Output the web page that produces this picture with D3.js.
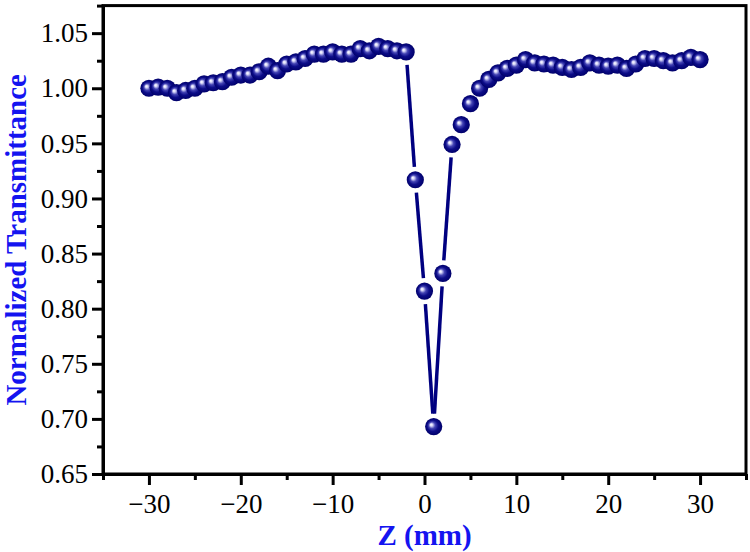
<!DOCTYPE html>
<html>
<head>
<meta charset="utf-8">
<script src="https://cdn.jsdelivr.net/npm/d3@7"></script>
<style>
body { margin: 0; background: #fff; }
</style>
</head>
<body>
<script>
// Z position (mm) and normalized transmittance
var zPos = [-30, -29, -28, -27, -26, -25, -24, -23, -22, -21, -20, -19, -18, -17, -16, -15,
  -14, -13, -12, -11, -10, -9, -8, -7, -6, -5, -4, -3, -2, -1, 0, 1, 2, 3, 4, 5, 6, 7, 8, 9,
  10, 11, 12, 13, 14, 15, 16, 17, 18, 19, 20, 21, 22, 23, 24, 25, 26, 27, 28, 29, 30];
var transmittance = [1.000, 1.001, 1.000, 0.996, 0.998, 1.000, 1.004, 1.005, 1.006, 1.010,
  1.012, 1.012, 1.015, 1.020, 1.016, 1.022, 1.024, 1.027, 1.031, 1.031, 1.033, 1.031, 1.031,
  1.036, 1.034, 1.038, 1.036, 1.034, 1.033, 0.917, 0.816, 0.693, 0.832, 0.949, 0.967, 0.986,
  1.000, 1.008, 1.014, 1.018, 1.021, 1.026, 1.023, 1.022, 1.021, 1.019, 1.017, 1.019, 1.023,
  1.021, 1.020, 1.021, 1.018, 1.022, 1.027, 1.027, 1.025, 1.023, 1.025, 1.028, 1.026];

var xMajorTicks = [-30, -20, -10, 0, 10, 20, 30];
var xMinorTicks = [-35, -25, -15, -5, 5, 15, 25, 35];
var yMajorTicks = [0.65, 0.70, 0.75, 0.80, 0.85, 0.90, 0.95, 1.00, 1.05];
var yMinorTicks = [0.675, 0.725, 0.775, 0.825, 0.875, 0.925, 0.975, 1.025, 1.075];

function drawChart() {

var width = 750, height = 552;
var left = 103, right = 746, top = 5.6, bottom = 474;

var svg = d3.select("body")
  .append("svg")
  .attr("width", width)
  .attr("height", height);

// sphere look for the symbols
var grad = svg.append("defs").append("radialGradient")
  .attr("id", "ball")
  .attr("cx", "50%").attr("cy", "50%").attr("r", "50%")
  .attr("fx", "34%").attr("fy", "38%");
grad.append("stop").attr("offset", "0%").attr("stop-color", "#ffffff");
grad.append("stop").attr("offset", "14%").attr("stop-color", "#dcdcfa");
grad.append("stop").attr("offset", "38%").attr("stop-color", "#4444b4");
grad.append("stop").attr("offset", "65%").attr("stop-color", "#0c0c88");
grad.append("stop").attr("offset", "100%").attr("stop-color", "#00006a");

var x = d3.scaleLinear().domain([-35, 35]).range([left, right]);
var y = d3.scaleLinear().domain([0.65, 1.075]).range([bottom, top]);

// minor ticks first, then major ones with labels
var xMinor = svg.append("g").attr("transform", "translate(0," + bottom + ")")
  .call(d3.axisBottom(x).tickValues(xMinorTicks).tickSize(6).tickSizeOuter(0).tickFormat(""));
var xMajor = svg.append("g").attr("transform", "translate(0," + bottom + ")")
  .call(d3.axisBottom(x).tickValues(xMajorTicks).tickSize(11).tickSizeOuter(0).tickPadding(9)
    .tickFormat(d3.format("d")));
var yMinor = svg.append("g").attr("transform", "translate(" + left + ",0)")
  .call(d3.axisLeft(y).tickValues(yMinorTicks).tickSize(6).tickSizeOuter(0).tickFormat(""));
var yMajor = svg.append("g").attr("transform", "translate(" + left + ",0)")
  .call(d3.axisLeft(y).tickValues(yMajorTicks).tickSize(11).tickSizeOuter(0).tickPadding(4)
    .tickFormat(d3.format(".2f")));

[xMinor, xMajor, yMinor, yMajor].forEach(function(g) {
  g.selectAll("path").attr("stroke", "#000").attr("stroke-width", 3);
  g.selectAll("line").attr("stroke", "#000").attr("stroke-width", 3);
  g.selectAll("text")
    .attr("fill", "#000")
    .style("font-family", "'Liberation Serif', 'Times New Roman', serif")
    .style("font-size", "27px");
});

// box around the plot
svg.append("rect")
  .attr("x", left).attr("y", top)
  .attr("width", right - left).attr("height", bottom - top)
  .attr("fill", "none").attr("stroke", "#000").attr("stroke-width", 3);

var pts = zPos.map(function(z, i) { return { px: x(z), py: y(transmittance[i]) }; });

// connecting line, with a gap around each symbol
var gap = 13;
var segs = [];
for (var i = 1; i < pts.length; i++) {
  var a = pts[i - 1], b = pts[i];
  var dx = b.px - a.px, dy = b.py - a.py, len = Math.sqrt(dx * dx + dy * dy);
  if (len > 2 * gap + 2) {
    segs.push({ x1: a.px + dx / len * gap, y1: a.py + dy / len * gap,
                x2: b.px - dx / len * gap, y2: b.py - dy / len * gap });
  }
}
svg.selectAll("line.seg")
  .data(segs)
  .enter().append("line")
  .attr("class", "seg")
  .attr("x1", function(d) { return d.x1; }).attr("y1", function(d) { return d.y1; })
  .attr("x2", function(d) { return d.x2; }).attr("y2", function(d) { return d.y2; })
  .attr("stroke", "#000080")
  .attr("stroke-width", 3.5);

svg.selectAll("circle.pt")
  .data(pts)
  .enter().append("circle")
  .attr("class", "pt")
  .attr("cx", function(d) { return d.px; })
  .attr("cy", function(d) { return d.py; })
  .attr("r", 8.6)
  .attr("fill", "url(#ball)");

// axis titles
svg.append("text")
  .attr("x", (left + right) / 2)
  .attr("y", 545)
  .attr("text-anchor", "middle")
  .attr("fill", "#1414f0")
  .style("font-family", "'Liberation Serif', 'Times New Roman', serif")
  .style("font-weight", "bold")
  .style("font-size", "29px")
  .text("Z (mm)");

svg.append("text")
  .attr("transform", "translate(26," + ((top + bottom) / 2) + ") rotate(-90)")
  .attr("text-anchor", "middle")
  .attr("fill", "#1414f0")
  .style("font-family", "'Liberation Serif', 'Times New Roman', serif")
  .style("font-weight", "bold")
  .style("font-size", "29px")
  .text("Normalized Transmittance");

}

drawChart();
</script>
</body>
</html>
